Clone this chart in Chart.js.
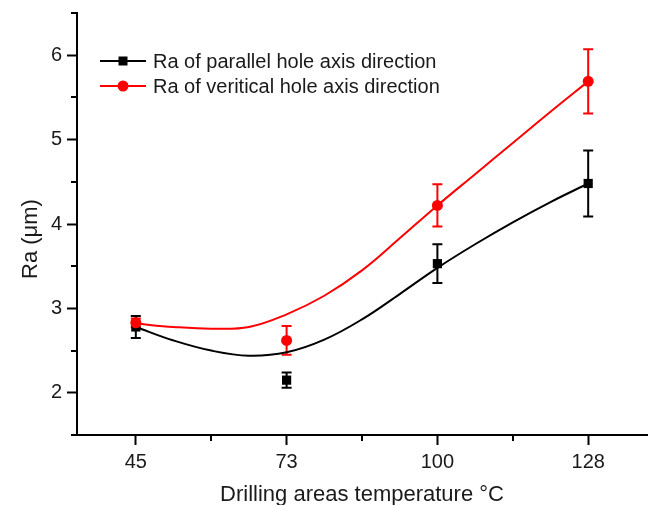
<!DOCTYPE html>
<html>
<head>
<meta charset="utf-8">
<script src="https://cdn.jsdelivr.net/npm/chart.js@4.4.1/dist/chart.umd.min.js"></script>
<style>
  html, body { margin: 0; padding: 0; background: #fff; }
  #wrap { width: 648px; height: 505px; }
</style>
</head>
<body>
<div id="wrap"><canvas id="chart" width="648" height="505"></canvas></div>
<script>
// temperatures are plotted at equal spacing (category positions 1..4)
var tempLabels = ['45', '73', '100', '128'];
var tempPos = [1, 2, 3, 4];

var seriesNames = ['Ra of parallel hole axis direction', 'Ra of veritical hole axis direction'];

// measured Ra (um) and error bars
var parallelRa = [2.78, 2.15, 3.53, 4.48];
var parallelErr = [0.13, 0.09, 0.23, 0.39];
var verticalRa = [2.83, 2.62, 4.22, 5.69];
var verticalErr = [0.05, 0.17, 0.25, 0.38];

// fitted curves
var fitPos = [1, 1.25, 1.5, 1.75, 2, 2.25, 2.5, 2.75, 3, 3.25, 3.5, 3.75, 4];
var parallelFit = [2.78, 2.62, 2.50, 2.44, 2.48, 2.63, 2.87, 3.17, 3.48, 3.76, 4.02, 4.26, 4.48];
var verticalFit = [2.82, 2.78, 2.76, 2.78, 2.93, 3.15, 3.45, 3.83, 4.22, 4.59, 4.96, 5.33, 5.69];

var yMajor = [2, 3, 4, 5, 6];
var yMinor = [1.5, 2.5, 3.5, 4.5, 5.5, 6.5];
var xMinor = [1.5, 2.5, 3.5];

var FONT = '"Liberation Sans", Arial, sans-serif';
var BLACK = '#000000';
var RED = '#ff0000';

function pts(xs, ys) {
    return xs.map(function (x, i) { return { x: x, y: ys[i] }; });
}

var errorBars = {
    id: 'errorBars',
    beforeDatasetsDraw: function (chart) {
        var ctx = chart.ctx, xs = chart.scales.x, ys = chart.scales.y;
        chart.data.datasets.forEach(function (ds) {
            if (!ds.err) return;
            ctx.save();
            ctx.strokeStyle = ds.borderColor;
            ctx.lineWidth = 2;
            ds.data.forEach(function (p, i) {
                var px = xs.getPixelForValue(p.x);
                var top = ys.getPixelForValue(p.y + ds.err[i]);
                var bot = ys.getPixelForValue(p.y - ds.err[i]);
                ctx.beginPath();
                ctx.moveTo(px, top); ctx.lineTo(px, bot);
                ctx.moveTo(px - 5, top); ctx.lineTo(px + 5, top);
                ctx.moveTo(px - 5, bot); ctx.lineTo(px + 5, bot);
                ctx.stroke();
            });
            ctx.restore();
        });
    }
};

var extras = {
    id: 'extras',
    afterDraw: function (chart) {
        var ctx = chart.ctx, xs = chart.scales.x, ys = chart.scales.y;
        var area = chart.chartArea;
        ctx.save();
        // minor ticks
        ctx.strokeStyle = BLACK;
        ctx.lineWidth = 2;
        ctx.beginPath();
        yMinor.forEach(function (v) {
            var py = Math.round(ys.getPixelForValue(v));
            if (py < area.top) return;
            ctx.moveTo(area.left - 6, py); ctx.lineTo(area.left, py);
        });
        xMinor.forEach(function (v) {
            var px = Math.round(xs.getPixelForValue(v));
            ctx.moveTo(px, area.bottom); ctx.lineTo(px, area.bottom + 6);
        });
        ctx.stroke();

        // axis titles
        ctx.fillStyle = '#1a1a1a';
        ctx.font = '22px ' + FONT;
        ctx.textAlign = 'center';
        ctx.textBaseline = 'alphabetic';
        ctx.fillText('Drilling areas temperature \u00B0C', (area.left + area.right) / 2, 501);
        ctx.save();
        ctx.translate(37, 239);
        ctx.rotate(-Math.PI / 2);
        ctx.fillText('Ra (\u03BCm)', 0, 0);
        ctx.restore();

        // legend: line with marker in the middle, then label
        var rows = [
            { ds: chart.data.datasets[1], y: 61 },
            { ds: chart.data.datasets[0], y: 86 }
        ];
        ctx.font = '20px ' + FONT;
        ctx.textAlign = 'left';
        ctx.textBaseline = 'middle';
        rows.forEach(function (r) {
            ctx.strokeStyle = r.ds.borderColor;
            ctx.lineWidth = 2;
            ctx.beginPath();
            ctx.moveTo(100, r.y); ctx.lineTo(146, r.y);
            ctx.stroke();
            ctx.fillStyle = r.ds.backgroundColor;
            if (r.ds.pointStyle === 'rect') {
                ctx.fillRect(118.5, r.y - 4.5, 9, 9);
            } else {
                ctx.beginPath();
                ctx.arc(123, r.y, 5.5, 0, Math.PI * 2);
                ctx.fill();
            }
            ctx.fillStyle = '#1a1a1a';
            ctx.fillText(r.ds.label, 153, r.y + 1);
        });
        ctx.restore();
    }
};

var ctx = document.getElementById('chart').getContext('2d');
var chart = new Chart(ctx, {
    type: 'scatter',
    data: {
        datasets: [
            {
                label: seriesNames[1],
                data: pts(tempPos, verticalRa),
                err: verticalErr,
                showLine: false,
                pointStyle: 'circle',
                pointRadius: 5.5,
                backgroundColor: RED,
                borderColor: RED,
                borderWidth: 0
            },
            {
                label: seriesNames[0],
                data: pts(tempPos, parallelRa),
                err: parallelErr,
                showLine: false,
                pointStyle: 'rect',
                pointRadius: 6.5,
                backgroundColor: BLACK,
                borderColor: BLACK,
                borderWidth: 0
            },
            {
                label: 'fit vertical',
                data: pts(fitPos, verticalFit),
                showLine: true,
                tension: 0.4,
                pointRadius: 0,
                borderColor: RED,
                borderWidth: 2
            },
            {
                label: 'fit parallel',
                data: pts(fitPos, parallelFit),
                showLine: true,
                tension: 0.4,
                pointRadius: 0,
                borderColor: BLACK,
                borderWidth: 2
            }
        ]
    },
    options: {
        responsive: false,
        animation: false,
        layout: { autoPadding: false, padding: { top: 13, right: 1, left: 0, bottom: 0 } },
        plugins: {
            legend: { display: false },
            tooltip: { enabled: false }
        },
        scales: {
            x: {
                type: 'linear',
                min: 0.61,
                max: 4.39,
                afterBuildTicks: function (s) {
                    s.ticks = tempPos.map(function (v) { return { value: v }; });
                },
                afterFit: function (s) {
                    s.height = 70;
                    s.paddingLeft = 0;
                    s.paddingRight = 0;
                },
                border: { display: true, color: BLACK, width: 2 },
                grid: { drawOnChartArea: false, tickLength: 10, tickWidth: 2, tickColor: BLACK },
                ticks: {
                    padding: 5,
                    color: '#1a1a1a',
                    font: { family: FONT, size: 20 },
                    maxRotation: 0,
                    callback: function (v) { return tempLabels[tempPos.indexOf(v)]; }
                }
            },
            y: {
                min: 1.5,
                max: 6.5,
                afterBuildTicks: function (s) {
                    s.ticks = yMajor.map(function (v) { return { value: v }; });
                },
                afterFit: function (s) {
                    s.width = 77;
                    s.paddingTop = 0;
                    s.paddingBottom = 0;
                },
                border: { display: true, color: BLACK, width: 2 },
                grid: { drawOnChartArea: false, tickLength: 10, tickWidth: 2, tickColor: BLACK },
                ticks: {
                    padding: 5,
                    color: '#1a1a1a',
                    font: { family: FONT, size: 20 },
                    callback: function (v) { return String(v); }
                }
            }
        }
    },
    plugins: [errorBars, extras]
});
</script>
</body>
</html>
